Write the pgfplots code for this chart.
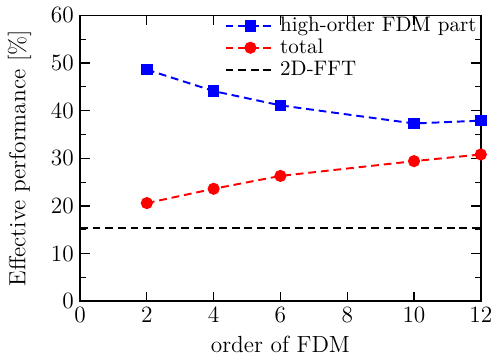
\documentclass[border=0pt]{standalone}
\usepackage{fontspec}
\usepackage{pgfplots}
\pgfplotsset{compat=1.18}
\begin{document}
\fontsize{12pt}{14pt}\selectfont
\begin{tikzpicture}
\begin{axis}[
  scale only axis,
  width=206pt, height=147pt,
  xmin=0, xmax=12, ymin=0, ymax=60,
  xtick={0,2,...,12}, ytick={0,10,...,60},
  minor y tick num=1,
  tick align=inside,
  major tick length=5pt, minor tick length=3pt,
  every tick/.style={black, line width=0.6pt},
  axis line style={line width=0.8pt},
  ticklabel style={font=\fontsize{12.5pt}{14pt}\selectfont},
  xticklabel style={yshift=1pt},
  yticklabel style={xshift=1pt},
  xlabel={order of FDM},
  ylabel={Effective performance [\%]},
  label style={font=\fontsize{12pt}{14pt}\selectfont},
  xlabel style={yshift=1pt},
  ylabel style={yshift=2pt},
  legend style={draw=none, fill=none, at={(rel axis cs:1.0,1.01)}, anchor=north east,
    font=\fontsize{10.8pt}{11pt}\selectfont, row sep=-2pt, inner sep=0pt},
  legend cell align=left,
  legend image code/.code={
    \draw[mark repeat=2,mark phase=2,#1] plot coordinates {(0cm,0cm) (0.45cm,0cm) (0.9cm,0cm)};
  },
]
\addplot[blue, line width=1pt, dash pattern=on 4pt off 2.5pt, mark=square*, mark size=2.5pt, mark options={solid}]
  coordinates {(2,48.6) (4,44.1) (6,41.1) (10,37.3) (12,37.9)};
\addlegendentry{high-order FDM part}
\addplot[red, line width=1pt, dash pattern=on 4pt off 2.5pt, mark=*, mark size=2.6pt, mark options={solid}]
  coordinates {(2,20.6) (4,23.6) (6,26.3) (10,29.4) (12,30.8)};
\addlegendentry{total}
\addplot[black, line width=1pt, dash pattern=on 4pt off 2.5pt]
  coordinates {(0,15.4) (12,15.4)};
\addlegendentry{2D-FFT}
\end{axis}
\end{tikzpicture}
\end{document}
